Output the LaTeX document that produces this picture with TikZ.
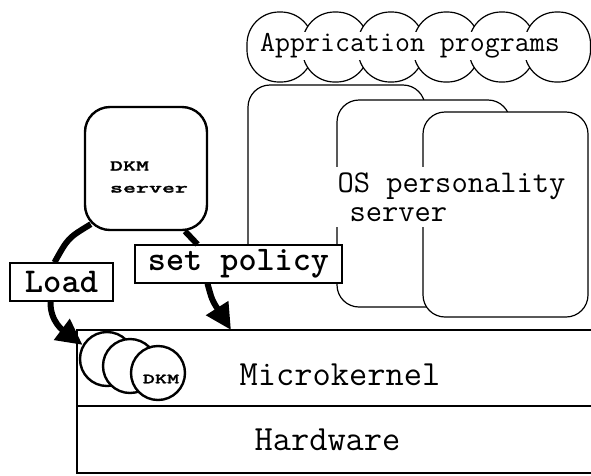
\documentclass[tikz,border=0pt]{standalone}
\usepackage{fontspec}
\newfontfamily\heavytt{lmmonolt10-bold.otf}
\newfontfamily\squatbold{lmmonolt10-bold.otf}[FakeStretch=1.65,FakeBold=1.5]
\usetikzlibrary{arrows.meta}
\tikzset{
  bubble/.style={draw,line width=1.2pt,fill=white,rounded corners=32pt,
    minimum width=66pt,minimum height=70pt,inner sep=0pt},
  osbox/.style={draw,line width=1.2pt,fill=white,rounded corners=22pt,inner sep=0pt},
  tag/.style={draw,line width=1.2pt,fill=white,inner sep=0pt,minimum height=38pt,
    font=\heavytt\fontsize{34.8}{34.8}\selectfont},
  dkmdisk/.style={circle,draw,line width=2.4pt,fill=white,minimum size=54pt,inner sep=0pt},
  fatline/.style={line width=6pt},
  fatarrow/.style={line width=6pt,-{Triangle[length=26pt,width=25pt]}}
}
\begin{document}
\begin{tikzpicture}[x=1pt,y=-1pt]
\useasboundingbox (0,0) rectangle (591,475);
\draw[line width=1.5pt] (600,330) -- (77,330) -- (77,473) -- (600,473);
\draw[line width=1.5pt] (77,406) -- (600,406);
\node[font=\ttfamily\fontsize{35.4}{35.4}\selectfont] (mk) at (340,375) {Microkernel};
\node[font=\ttfamily\fontsize{35.4}{35.4}\selectfont] (hw) at (327.5,440) {Hardware};
\foreach \i in {0,...,5}
  \node[bubble] (app\i) at (280+55.5*\i,47) {};
\node[fill=white,inner sep=2pt,font=\ttfamily\fontsize{29.1}{29.1}\selectfont]
  (apps) at (410,46) {Apprication programs};
\node[osbox,minimum width=177pt,minimum height=193pt] (os1) at (336.5,181.5) {};
\node[osbox,minimum width=173pt,minimum height=207pt] (os2) at (423.5,203.5) {};
\node[osbox,minimum width=165pt,minimum height=205pt] (os3) at (505.5,214.5) {};
\node[fill=white,align=left,inner xsep=2pt,inner ysep=6pt,
  font=\ttfamily\fontsize{31.6}{29}\selectfont] (ostext) at (451.5,197)
  {OS personality\\\hspace*{12pt}server};
\node[draw,line width=2.4pt,rounded corners=25pt,minimum width=122pt,
  minimum height=123pt] (dkmsrv) at (146,168.5) {};
\node[align=left,font=\squatbold\fontsize{15}{22}\selectfont]
  (srvname) at (149,177) {DKM\\server};
\node[dkmdisk] (dkm1) at (107,359) {};
\node[dkmdisk] (dkm2) at (130,366) {};
\node[dkmdisk] (dkm3) at (158,373) {};
\node[font=\squatbold\fontsize{14}{14}\selectfont] (dkmname) at (161,379) {DKM};
\node[tag,minimum width=103pt] (load) at (61.5,282) {Load};
\node[tag,minimum width=207pt,font=\heavytt\fontsize{34.5}{34.5}\selectfont]
  (policy) at (238.5,264) {set policy};
\coordinate (mktop) at (231,330);
\draw[fatline] ([shift={(7,-7)}]dkmsrv.south west) .. controls (68,238) .. ([xshift=-7pt]load.north);
\draw[fatarrow] ([xshift=-11pt]load.south) .. controls (50,322) and (64,331) .. (dkm1.150);
\draw[fatline] ([xshift=39pt]dkmsrv.south) -- ([xshift=-41pt]policy.north);
\draw[fatarrow] ([xshift=-31pt]policy.south) .. controls (212,300) .. (mktop);
\end{tikzpicture}
\end{document}
